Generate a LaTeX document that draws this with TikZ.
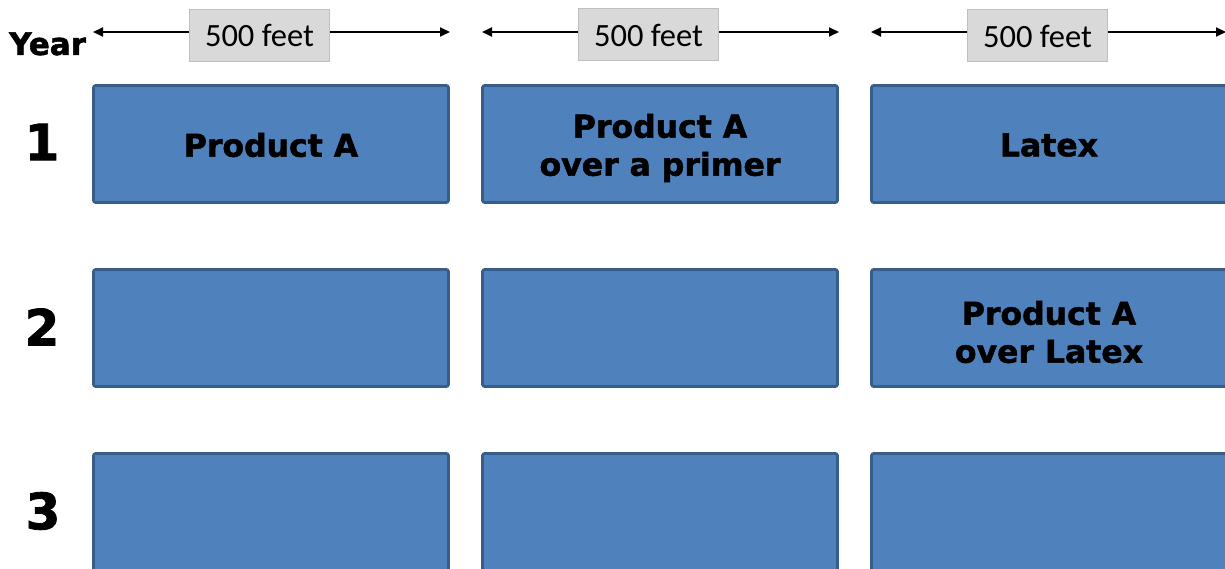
\documentclass[tikz,border=0pt]{standalone}
\usepackage{fontspec}
\setmainfont{DejaVu Sans}
\newfontfamily\heavy{DejaVu Sans Bold}[FakeBold=1.6]
\newfontfamily\labfont{Carlito}
\usetikzlibrary{arrows.meta}
\definecolor{boxfill}{HTML}{4F81BD}
\definecolor{boxline}{HTML}{385D8A}
\definecolor{labfill}{HTML}{D9D9D9}
\definecolor{labline}{HTML}{BFBFBF}
\tikzset{
  cell/.style={draw=boxline, fill=boxfill, line width=2.6pt, rounded corners=2pt,
    minimum width=355pt, minimum height=117pt, inner sep=0pt},
  celltext/.style={align=center, inner sep=0pt, text=black,
    font=\heavy\fontsize{31.5}{38}\selectfont},
  distlab/.style={draw=labline, fill=labfill, line width=1pt, minimum width=140pt,
    minimum height=52pt, inner sep=0pt, font=\labfont\fontsize{32.5}{36}\selectfont},
  distarrow/.style={line width=1.8pt, -{Triangle[length=10pt,width=9pt]}},
  rownum/.style={font=\heavy\fontsize{50}{56}\selectfont, inner sep=0pt},
  yearlab/.style={font=\heavy\fontsize{31}{36}\selectfont, inner sep=0pt, anchor=base west}
}
\begin{document}
\begin{tikzpicture}[x=1pt,y=-1pt]
\useasboundingbox (0,0) rectangle (1225,569);
\clip (0,0) rectangle (1225,569);
% boxes
\node[cell] (b11) at (271,144) {};
\node[cell] (b12) at (660,144) {};
\node[cell] (b13) at (1049,144) {};
\node[cell] (b21) at (271,328) {};
\node[cell] (b22) at (660,328) {};
\node[cell] (b23) at (1049,328) {};
\node[cell] (b31) at (271,512) {};
\node[cell] (b32) at (660,512) {};
\node[cell] (b33) at (1049,512) {};
% box texts
\node[celltext] (t11) at ([yshift=-1pt]b11.center) {Product A};
\node[celltext] (t12) at ([yshift=-4pt]b12.center) {Product A\\over a primer};
\node[celltext] (t13) at ([yshift=-1pt]b13.center) {Latex};
\node[celltext] (t23) at ([yshift=-4pt]b23.center) {Product A\\over Latex};
% row numbers
\node[rownum] (n1) at (42,142) {1};
\node[rownum] (n2) at (42,327) {2};
\node[rownum] (n3) at (43,511) {3};
\node[yearlab] (year) at (9,55) {Year};
% distance arrows
\coordinate (a1l) at (93,32);  \coordinate (a1r) at (450,32);
\coordinate (a2l) at (482,32); \coordinate (a2r) at (839,32);
\coordinate (a3l) at (871,32); \coordinate (a3r) at (1226,32);
\node[distlab] (l1) at (259.5,35.5) {500 feet};
\node[distlab] (l2) at (648.5,35) {500 feet};
\node[distlab] (l3) at (1037.5,36) {500 feet};
\draw[distarrow] (l1.west |- a1l) -- (a1l);
\draw[distarrow] (l1.east |- a1r) -- (a1r);
\draw[distarrow] (l2.west |- a2l) -- (a2l);
\draw[distarrow] (l2.east |- a2r) -- (a2r);
\draw[distarrow] (l3.west |- a3l) -- (a3l);
\draw[distarrow] (l3.east |- a3r) -- (a3r);
\end{tikzpicture}
\end{document}
